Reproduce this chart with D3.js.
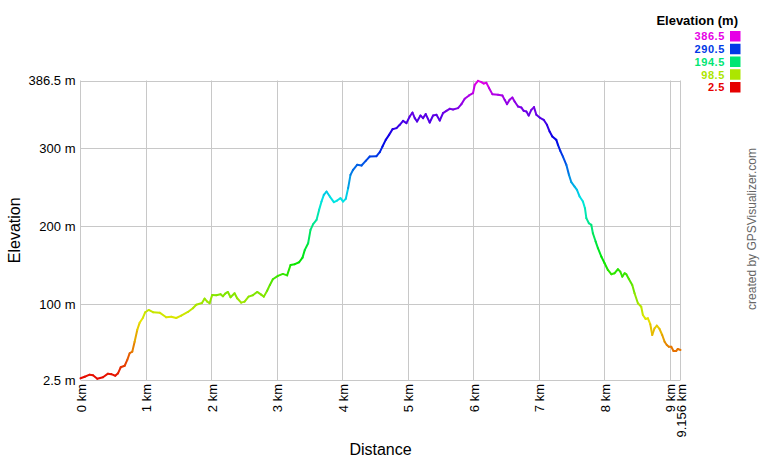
<!DOCTYPE html>
<html>
<head>
<meta charset="utf-8">
<script src="https://cdn.jsdelivr.net/npm/d3@7"></script>
<style>
  html, body { margin: 0; padding: 0; background: #fff; }
  svg { display: block; font-family: "Liberation Sans", Arial, sans-serif; }
</style>
</head>
<body>
<svg id="chart" width="760" height="460"></svg>
<script>
// ---- Data (distance in km, elevation in m) ----
const distanceKm = [
  0.000,0.064,0.140,0.191,0.256,0.343,0.419,0.470,0.531,0.572,
  0.613,0.674,0.714,0.750,0.790,0.826,0.866,0.903,0.953,0.988,
  1.040,1.106,1.208,1.308,1.385,1.461,1.537,1.639,1.715,1.766,
  1.853,1.894,1.934,1.970,2.010,2.071,2.138,2.173,2.208,2.249,
  2.290,2.351,2.391,2.452,2.504,2.565,2.630,2.696,2.757,2.798,
  2.848,2.890,2.935,3.012,3.088,3.153,3.205,3.271,3.336,3.388,
  3.423,3.474,3.510,3.550,3.602,3.641,3.678,3.713,3.754,3.805,
  3.866,3.916,3.968,4.007,4.048,4.084,4.120,4.160,4.221,4.288,
  4.353,4.414,4.517,4.567,4.608,4.658,4.709,4.761,4.822,4.872,
  4.922,4.974,5.024,5.066,5.101,5.136,5.188,5.227,5.268,5.329,
  5.380,5.432,5.482,5.532,5.584,5.634,5.685,5.761,5.813,5.863,
  5.929,5.990,6.016,6.066,6.118,6.153,6.194,6.234,6.285,6.371,
  6.438,6.473,6.508,6.549,6.590,6.625,6.676,6.728,6.763,6.804,
  6.839,6.880,6.920,6.956,7.007,7.068,7.118,7.159,7.200,7.261,
  7.286,7.322,7.362,7.414,7.454,7.490,7.540,7.576,7.617,7.667,
  7.698,7.719,7.758,7.795,7.819,7.861,7.896,7.948,7.998,8.048,
  8.100,8.150,8.201,8.237,8.268,8.303,8.329,8.368,8.420,8.455,
  8.506,8.557,8.582,8.623,8.659,8.695,8.725,8.760,8.795,8.836,
  8.877,8.913,8.947,8.978,9.015,9.049,9.091,9.115,9.156
];
const elevationM = [
  4.7,6.7,9.3,8.5,4.2,6.0,10.6,10.0,8.0,11.0,
  18.8,20.8,28.2,36.8,38.8,51.6,66.7,76.0,82.4,89.4,
  92.3,89.4,88.8,82.9,83.7,82.0,85.0,89.7,94.5,99.0,
  101.3,106.8,103.0,100.9,111.6,111.2,112.5,109.9,113.2,115.4,
  108.6,113.7,107.3,101.7,103.0,109.4,111.2,115.4,112.0,109.4,
  117.0,124.4,131.7,136.0,138.5,136.6,150.0,151.0,153.5,159.4,
  169.3,177.9,195.0,202.3,207.8,220.6,231.3,239.9,244.1,237.7,
  230.5,232.6,235.6,231.3,234.7,248.5,265.5,272.0,278.4,277.5,
  283.5,289.0,289.5,294.6,301.8,310.4,316.8,324.1,325.4,329.7,
  334.8,331.8,340.3,345.4,338.3,333.9,341.6,338.2,343.4,332.6,
  341.6,342.5,335.2,344.7,347.6,350.2,349.3,351.1,356.2,363.0,
  367.3,370.3,381.0,386.1,384.4,382.6,383.5,377.0,369.0,368.2,
  367.3,361.7,356.2,361.7,364.7,359.6,353.1,351.8,347.6,346.7,
  341.6,348.9,352.4,342.5,339.0,336.1,329.7,321.0,314.6,310.4,
  304.0,296.3,289.0,278.4,265.5,256.1,250.5,246.3,237.7,231.3,
  222.8,210.0,203.5,201.4,190.7,180.0,171.5,160.7,152.2,143.6,
  138.1,139.4,144.5,141.4,135.0,139.4,138.1,132.1,124.4,113.7,
  100.9,96.5,85.9,80.8,81.6,74.0,60.2,68.8,72.2,67.9,
  60.2,51.6,47.4,45.2,45.2,39.7,39.7,42.3,41.0
];
const yTickValues = [2.5, 100, 200, 300, 386.5];
const yTickLabels = ["2.5 m", "100 m", "200 m", "300 m", "386.5 m"];
const xTickValues = [0, 1, 2, 3, 4, 5, 6, 7, 8, 9, 9.156];
const xTickLabels = ["0 km","1 km","2 km","3 km","4 km","5 km","6 km","7 km","8 km","9 km","9.156 km"];
const legendValues = [386.5, 290.5, 194.5, 98.5, 2.5];
const legendTitle = "Elevation (m)";
const xTitle = "Distance";
const yTitle = "Elevation";
const credit = "created by GPSVisualizer.com";

// ---- Layout ----
const svg = d3.select("#chart");
const plot = { left: 80.5, right: 680.5, top: 80.5, bottom: 380 };

const x = d3.scaleLinear().domain([0, 9.156]).range([plot.left, plot.right]);
const y = d3.scaleLinear().domain([2.5, 386.5]).range([plot.bottom, plot.top]);
const hue = d3.scaleLinear().domain([2.5, 386.5]).range([0, 300]);
const colorOf = e => d3.hsl(hue(e), 1, 0.45).formatHex();

// Grid
const gridColor = "#c8c8c8";
const g = svg.append("g");
g.selectAll("line.hgrid").data(yTickValues).join("line")
  .attr("x1", plot.left).attr("x2", plot.right)
  .attr("y1", d => Math.round(y(d)) + 0.5).attr("y2", d => Math.round(y(d)) + 0.5)
  .attr("stroke", gridColor).attr("stroke-width", 1);
g.selectAll("line.vgrid").data(xTickValues).join("line")
  .attr("x1", d => Math.round(x(d) - 0.5) + 0.5).attr("x2", d => Math.round(x(d) - 0.5) + 0.5)
  .attr("y1", plot.top).attr("y2", plot.bottom)
  .attr("stroke", gridColor).attr("stroke-width", 1);

// Y axis labels
const yAxis = d3.axisLeft(y).tickValues(yTickValues)
  .tickFormat((d, i) => yTickLabels[i]).tickSize(0).tickPadding(5);
const ya = svg.append("g").attr("transform", `translate(${plot.left},0)`).call(yAxis);
ya.select(".domain").remove();
ya.selectAll("text").attr("font-size", 13).attr("fill", "#000")
  .attr("font-family", "Liberation Sans, Arial, sans-serif");

// X axis labels (rotated)
const xAxis = d3.axisBottom(x).tickValues(xTickValues)
  .tickFormat((d, i) => xTickLabels[i]).tickSize(0);
const xa = svg.append("g").attr("transform", `translate(0,${plot.bottom})`).call(xAxis);
xa.select(".domain").remove();
xa.selectAll("text")
  .attr("font-size", 13).attr("fill", "#000")
  .attr("font-family", "Liberation Sans, Arial, sans-serif")
  .attr("text-anchor", "end")
  .attr("dy", "0.35em")
  .attr("y", 0)
  .attr("transform", "translate(0,4) rotate(-90)");

// Profile line, coloured by elevation
const pts = distanceKm.map((d, i) => [d, elevationM[i]]);
const segs = d3.pairs(pts);
svg.append("g").selectAll("line").data(segs).join("line")
  .attr("x1", d => x(d[0][0])).attr("y1", d => y(d[0][1]))
  .attr("x2", d => x(d[1][0])).attr("y2", d => y(d[1][1]))
  .attr("stroke", d => colorOf((d[0][1] + d[1][1]) / 2))
  .attr("stroke-width", 2)
  .attr("stroke-linecap", "round");

// Axis titles
svg.append("text").attr("x", (plot.left + plot.right) / 2).attr("y", 455)
  .attr("text-anchor", "middle").attr("font-size", 16).attr("fill", "#000").text(xTitle);
svg.append("text").attr("transform", `translate(20,${(plot.top + plot.bottom) / 2}) rotate(-90)`)
  .attr("text-anchor", "middle").attr("font-size", 16).attr("fill", "#000").text(yTitle);

// Legend
const lg = svg.append("g");
lg.append("text").attr("x", 738).attr("y", 25).attr("text-anchor", "end")
  .attr("font-size", 13).attr("font-weight", "bold").attr("fill", "#000").text(legendTitle);
const rows = lg.selectAll("g.row").data(legendValues).join("g")
  .attr("transform", (d, i) => `translate(0,${36.5 + i * 12.75})`);
rows.append("rect").attr("x", 730).attr("y", -5.5).attr("width", 10.5).attr("height", 10.5)
  .attr("fill", d => colorOf(d));
rows.append("text").attr("x", 725).attr("y", 0).attr("dy", "0.36em").attr("text-anchor", "end")
  .attr("font-size", 11).attr("letter-spacing", 0.6)
  .attr("font-weight", "bold").attr("fill", d => colorOf(d))
  .text(d => d);

// Credit
svg.append("text").attr("transform", "translate(756,229) rotate(-90)")
  .attr("text-anchor", "middle").attr("font-size", 12).attr("fill", "#666").text(credit);
</script>
</body>
</html>
